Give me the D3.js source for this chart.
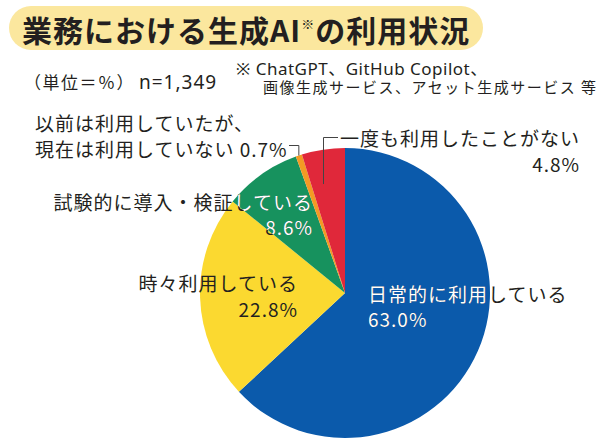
<!DOCTYPE html>
<html>
<head>
<meta charset="utf-8">
<script src="https://cdn.jsdelivr.net/npm/d3@7"></script>
<style>
  html, body { margin: 0; padding: 0; background: #fff; }
  svg { display: block; font-family: "Noto Sans CJK JP", "Noto Sans", sans-serif; }
  .latin { font-family: "Noto Sans", "Noto Sans CJK JP", sans-serif; }
</style>
</head>
<body>
<div id="chart"></div>
<script>
// data
const categories = [
  "日常的に利用している",
  "時々利用している",
  "試験的に導入・検証している",
  "以前は利用していたが、現在は利用していない",
  "一度も利用したことがない"
];
const values = [63.0, 22.8, 8.6, 0.7, 4.8];
const valueLabels = ["63.0%", "22.8%", "8.6%", "0.7%", "4.8%"];
const sliceColors = ["#0b5aab", "#fbd930", "#17925e", "#f39a24", "#e0283a"];

const W = 614, H = 445;
const cx = 345, cy = 293, R = 145;
const INK = "#231f20";

const svg = d3.select("#chart").append("svg")
  .attr("width", W).attr("height", H);

// title
svg.append("rect")
  .attr("x", 9).attr("y", 6).attr("width", 474).attr("height", 44)
  .attr("rx", 22).attr("fill", "#fbe79e");

const title = svg.append("text")
  .attr("x", 22).attr("y", 42)
  .attr("fill", INK)
  .style("font-size", "30px")
  .style("font-weight", "700")
  .style("letter-spacing", "1px");
title.append("tspan").text("業務における生成AI");
title.append("tspan").attr("dy", -13).style("font-size", "13px").style("font-weight", "400").text("※");
title.append("tspan").attr("dy", 13).text("の利用状況");

// subtitle + footnote
const sub = svg.append("text")
  .attr("x", 24).attr("y", 89)
  .attr("fill", INK)
  .style("font-size", "17px");
sub.append("tspan").style("letter-spacing", "1.5px").text("（単位＝％）");
sub.append("tspan").attr("class", "latin").attr("dx", 4)
  .style("font-size", "19px").style("letter-spacing", "1px").text("n=1,349");

const note = svg.append("g").attr("fill", INK);
note.append("text").attr("class", "latin")
  .attr("x", 236).attr("y", 75)
  .style("font-size", "17px")
  .style("letter-spacing", "0.5px")
  .text("※ ChatGPT、GitHub Copilot、");
note.append("text")
  .attr("x", 263).attr("y", 93)
  .style("font-size", "15px")
  .style("letter-spacing", "1.5px")
  .text("画像生成サービス、アセット生成サービス 等");

// pie
const pie = d3.pie().sort(null).value(d => d)(values);
const arc = d3.arc().innerRadius(0).outerRadius(R);

const g = svg.append("g").attr("transform", `translate(${cx},${cy})`);
g.selectAll("path.slice")
  .data(pie)
  .enter()
  .append("path")
  .attr("class", "slice")
  .attr("d", arc)
  .attr("fill", (d, i) => sliceColors[i]);

// white text is only drawn over the dark slices
const whiteSlices = [0, 2, 4];
const clip = svg.append("clipPath").attr("id", "darkSlices");
clip.selectAll("path")
  .data(pie.filter((d, i) => whiteSlices.includes(i)))
  .enter()
  .append("path")
  .attr("transform", `translate(${cx},${cy})`)
  .attr("d", arc);

// label layout: lines, anchor, x, baseline of first line
const labelLayout = [
  { lines: ["日常的に利用している", valueLabels[0]], anchor: "start", x: 368, y: 302, dy: 25 },
  { lines: ["時々利用している", valueLabels[1]], anchor: "end", x: 298, y: 291, dy: 26 },
  { lines: ["試験的に導入・検証している", valueLabels[2]], anchor: "end", x: 313, y: 210, dy: 25 },
  { lines: ["以前は利用していたが、", "現在は利用していない " + valueLabels[3]], anchor: "start", x: 35, y: 131, dy: 26 },
  { lines: ["一度も利用したことがない", valueLabels[4]], anchor: "end", x: 580, y: 146, dy: 26 }
];

function drawLabels(layer, color) {
  labelLayout.forEach(l => {
    const t = layer.append("text")
      .attr("text-anchor", l.anchor)
      .attr("fill", color)
      .style("font-size", "19px")
      .style("letter-spacing", "1px");
    l.lines.forEach((line, k) => {
      t.append("tspan").attr("x", l.x).attr("y", l.y + k * l.dy).text(line);
    });
  });
}

// leader lines
const orange = pie[3];
const orangeMid = (orange.startAngle + orange.endAngle) / 2;
const ox = cx + R * Math.sin(orangeMid), oy = cy - R * Math.cos(orangeMid);
const red = pie[4];
const redMid = (red.startAngle + red.endAngle) / 2;
const ry = cy - 0.76 * R * Math.cos(redMid);

const leaders = svg.append("g")
  .attr("fill", "none")
  .attr("stroke", "#444")
  .attr("stroke-width", 1);
leaders.append("path")
  .attr("d", `M289,145.5H${ox}V${oy}`);
leaders.append("path")
  .attr("d", `M338,137.5H323.5V${ry}`);

drawLabels(svg.append("g"), INK);
drawLabels(svg.append("g").attr("clip-path", "url(#darkSlices)"), "#fff");
</script>
</body>
</html>
